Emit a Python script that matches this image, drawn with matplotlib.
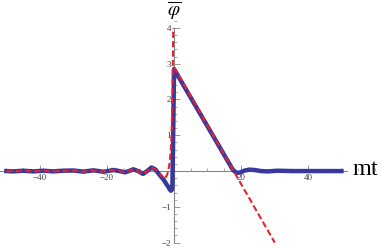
import matplotlib
matplotlib.use("Agg")
import matplotlib.pyplot as plt
from matplotlib.ticker import MultipleLocator

plt.rcParams['mathtext.fontset'] = 'stix'

# exact solution (blue)
t_exact = [-50, -48, -45, -42, -39, -36, -33, -30, -27, -24, -21, -18, -16.3, -14.6, -13.4, -12.1,
           -10.7, -9.2, -8.0, -6.7, -5.6, -4.5, -3.7, -3.0, -2.2, -1.6, -1.2, -0.9, -0.6, -0.45,
           -0.3, 0.05,
           17.5, 18.0, 18.7, 19.8, 21, 22.5, 24, 26, 28, 31, 35, 40, 45, 50]
phi_exact = [0.0, -0.01, 0.01, -0.01, 0.01, -0.01, 0.01, 0.015, -0.015, 0.02, -0.02, 0.03, 0.0, -0.035, 0.0, 0.05,
             0.0, -0.08, 0.0, 0.1, 0.05, -0.08, -0.17, -0.25, -0.37, -0.45, -0.52, -0.55, -0.52, -0.4,
             0.5, 2.85,
             0.05, 0.0, -0.05, -0.04, 0.01, 0.04, 0.03, 0.0, -0.01, 0.01, 0.0, 0.0, 0.0, 0.0]

# approximation (red dashed), left branch and right branch
t_appr_left = [-50, -48, -45, -42, -39, -36, -33, -30, -27, -24, -21, -18, -16.3, -14.6, -13.4, -12.1,
               -10.7, -9.2, -8.0, -6.7, -5.6, -4.5, -3.5, -2.7, -2.0, -1.4, -1.0, -0.7, -0.5, -0.35, -0.2]
phi_appr_left = [0.0, -0.01, 0.01, -0.01, 0.01, -0.01, 0.01, 0.015, -0.015, 0.02, -0.02, 0.03, 0.0, -0.035, 0.0, 0.05,
                 0.0, -0.08, 0.0, 0.1, 0.05, -0.05, -0.15, -0.22, -0.1, 0.15, 0.5, 1.0, 1.8, 2.8, 4.0]
t_appr_right = [0.05, 30.1]
phi_appr_right = [2.9, -2.0]

x_major = [-40, -20, 20, 40]
y_major = [-2, -1, 1, 2, 3, 4]

fig = plt.figure(figsize=(3.82, 2.48), dpi=100)
ax = fig.add_axes([0, 0, 1, 1])
ax.patch.set_alpha(0)

ax.plot(t_exact, phi_exact, color='#38389e', lw=3.2, solid_joinstyle='round', zorder=3)
ax.plot(t_appr_left, phi_appr_left, color='#e8222a', lw=1.5, dashes=(3, 1.5), zorder=4)
ax.plot(t_appr_right, phi_appr_right, color='#e8222a', lw=1.5, dashes=(3, 1.5), zorder=4)

ax.set_xlim(-51.9, 62.1)
ax.set_ylim(-2.15, 4.78)

for s in ['top', 'right']:
    ax.spines[s].set_visible(False)
ax.spines['left'].set_position('zero')
ax.spines['bottom'].set_position('zero')
ax.spines['bottom'].set_bounds(-52, 51.6)
ax.spines['left'].set_bounds(-2, 4)
for s in ['left', 'bottom']:
    ax.spines[s].set_color('#888888')
    ax.spines[s].set_linewidth(0.8)

ax.set_xticks(x_major)
ax.set_yticks(y_major)
ax.xaxis.set_minor_locator(MultipleLocator(5))
ax.yaxis.set_minor_locator(MultipleLocator(0.2))
ax.tick_params(which='major', direction='in', length=4, width=0.6, color='#888888',
               labelsize=6.5, labelcolor='#444444', pad=2)
ax.tick_params(which='minor', direction='in', length=2, width=0.5, color='#888888')
for lab in ax.get_xticklabels() + ax.get_yticklabels():
    lab.set_family('Liberation Serif')

ax.text(53.4, 0.03, 'mt', fontsize=17.5, family='Liberation Serif', ha='left', va='center')
ax.text(0.15, 4.47, r'$\overline{\varphi}$', fontsize=14, ha='center', va='center')

fig.savefig('out.png', dpi=100)
